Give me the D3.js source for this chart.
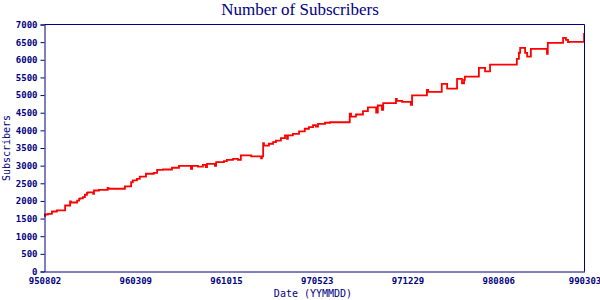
<!DOCTYPE html>
<html>
<head>
<meta charset="utf-8">
<script src="https://cdn.jsdelivr.net/npm/d3@7"></script>
<style>
  body { margin: 0; background: #fff; }
  svg { display: block; }
</style>
</head>
<body>
<script>
// Size of the chart
var width = 600;
var height = 300;
var margin = {top: 24, right: 16, bottom: 29, left: 44};

// Step dates (YYMMDD) and subscriber counts
var dates = ["950802","950803","950810","950820","950901","950921","951003","951005","951020","951025",
             "951027","951103","951108","951113","951115","951128","951130","951212","960102","960104",
             "960213","960228","960303","960313","960320","960404","960423","960501","960515","960606",
             "960623","960722","960725","960808","960820","960827","960830","960918","960921","961010",
             "961017","961101","961113","961120","961215","970108","970110","970113","970115","970127",
             "970206","970213","970225","970307","970312","970314","970326","970410","970424","970504",
             "970514","970521","970526","970612","970624","970811","970814","970826","970912","970924",
             "971014","971018","971028","971031","971201","971203","971216","980106","980109","980214",
             "980217","980322","980404","980428","980510","980515","980517","980620","980705","980717",
             "980920","980925","980928","981010","981015","981024","981202","981204","990110","990117",
             "990122","990124","990302","990303"];
var subscribers = [1560,1615,1635,1700,1730,1870,1985,1955,2010,2060,
                   2075,2105,2175,2230,2245,2200,2295,2315,2370,2345,
                   2410,2530,2580,2625,2690,2770,2795,2880,2890,2940,
                   2995,2910,2995,2975,3020,2960,3050,2995,3100,3130,
                   3165,3190,3165,3290,3260,3210,3260,3640,3570,3620,
                   3665,3710,3780,3855,3760,3855,3900,3970,4045,4090,
                   4150,4110,4185,4215,4230,4470,4390,4450,4545,4650,
                   4500,4705,4580,4770,4895,4835,4810,4725,4990,5150,
                   5090,5320,5180,5460,5335,5430,5525,5770,5670,5865,
                   6025,6200,6340,6195,6090,6310,6170,6480,6620,6565,
                   6500,6510,6735,6735];

// Axis tick labels
var xTickLabels = ["950802","960309","961015","970523","971229","980806","990303"];
var yTickValues = d3.range(0, 7001, 500);

var parseDate = d3.timeParse("%y%m%d");
var fmtDate = d3.timeFormat("%y%m%d");

var data = dates.map(function(d, i) {
    return {date: parseDate(d), value: subscribers[i]};
});

var navy = "#000080";
var mono = "'DejaVu Sans Mono', 'Liberation Mono', monospace";

var svg = d3.select("body")
            .append("svg")
            .attr("width", width)
            .attr("height", height);

// Scales
var x = d3.scaleTime()
            .domain([parseDate(xTickLabels[0]), parseDate(xTickLabels[xTickLabels.length - 1])])
            .range([margin.left + 0.5, width - margin.right + 0.5]);

var y = d3.scaleLinear()
            .domain([0, 7000])
            .range([height - margin.bottom + 0.5, margin.top + 0.5]);

// Data line (step after each date)
var line = d3.line()
            .x(function(d) { return x(d.date); })
            .y(function(d) { return y(d.value); })
            .curve(d3.curveStepAfter);

svg.append("path")
    .datum(data)
    .attr("d", line)
    .attr("fill", "none")
    .attr("stroke", "#ff0000")
    .attr("stroke-width", 1.8);

// Frame: top and right borders, drawn over the line
svg.append("path")
    .attr("d", "M" + x.range()[0] + "," + y.range()[1] + "H" + x.range()[1] + "V" + y.range()[0])
    .attr("fill", "none")
    .attr("stroke", navy)
    .attr("stroke-width", 1);

// Y axis
var yAxis = svg.append("g")
    .attr("transform", "translate(" + x.range()[0] + ",0)")
    .call(d3.axisLeft(y).tickValues(yTickValues).tickSize(4).tickPadding(3).tickFormat(d3.format("d")));

// X axis (labels only, no tick marks)
var xAxis = svg.append("g")
    .attr("transform", "translate(0," + y.range()[0] + ")")
    .call(d3.axisBottom(x).tickValues(xTickLabels.map(parseDate)).tickSize(0).tickPadding(6).tickFormat(fmtDate));

[xAxis, yAxis].forEach(function(g) {
    g.select(".domain").attr("stroke", navy).attr("stroke-width", 1);
    g.selectAll(".tick line").attr("stroke", navy);
    g.selectAll(".tick text")
        .attr("fill", navy)
        .style("font-family", mono)
        .style("font-size", "9px")
        .style("font-weight", "bold");
});

// Title
svg.append("text")
    .attr("x", 300)
    .attr("y", 15)
    .attr("text-anchor", "middle")
    .attr("fill", navy)
    .style("font-family", "'Liberation Serif', 'DejaVu Serif', serif")
    .style("font-size", "17px")
    .text("Number of Subscribers");

// Axis titles
svg.append("text")
    .attr("x", 313)
    .attr("y", 297)
    .attr("text-anchor", "middle")
    .attr("fill", navy)
    .style("font-family", mono)
    .style("font-size", "10px")
    .text("Date (YYMMDD)");

svg.append("text")
    .attr("transform", "translate(10," + ((y.range()[0] + y.range()[1]) / 2) + ") rotate(-90)")
    .attr("text-anchor", "middle")
    .attr("fill", navy)
    .style("font-family", mono)
    .style("font-size", "10px")
    .text("Subscribers");
</script>
</body>
</html>
